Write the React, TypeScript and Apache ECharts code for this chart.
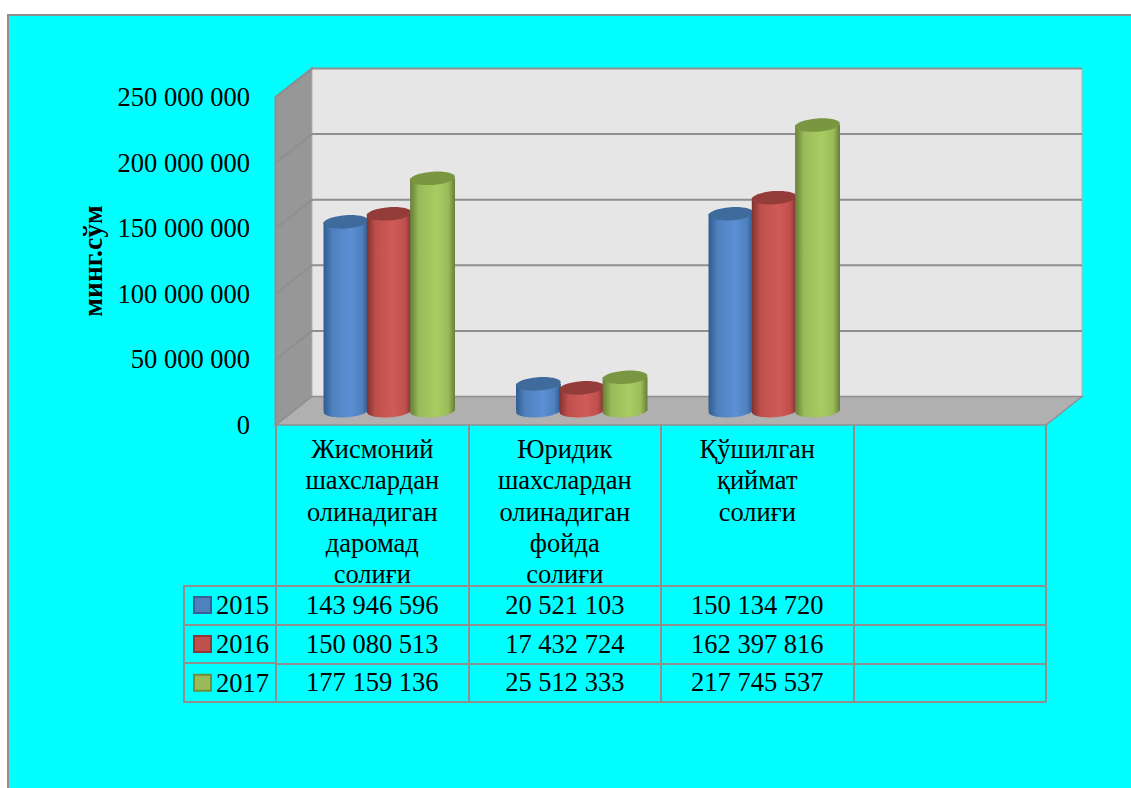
import React, { useEffect, useRef } from "react";
import * as echarts from "echarts";

const categories = [
  "Жисмоний\nшахслардан\nолинадиган\nдаромад\nсолиғи",
  "Юридик\nшахслардан\nолинадиган\nфойда\nсолиғи",
  "Қўшилган\nқиймат\nсолиғи",
  "",
];
const years = ["2015", "2016", "2017"];
const values2015 = [143946596, 20521103, 150134720];
const values2016 = [150080513, 17432724, 162397816];
const values2017 = [177159136, 25512333, 217745537];
const tickValues = [50000000, 100000000, 150000000, 200000000, 250000000];
const axisTitle = "минг.сўм";

const allValues = [values2015, values2016, values2017];
const palette = [
  { edge: "#2f5c90", mid: "#5b90d6", top: "#3f6a9c", swatch: "#4f81bd", line: "#386090" },
  { edge: "#7f3230", mid: "#d05a56", top: "#943c3a", swatch: "#c0504d", line: "#8c3836" },
  { edge: "#667f37", mid: "#a9cc62", top: "#7b9640", swatch: "#9bbb59", line: "#728c3c" },
];
const FONT = "'Liberation Serif', serif";
const FS = 26.5;
const GRAY = "#8f8f8f";
const DX = 36;
const DY = -28.5;
const TILT = 0.07;
const fmt = (v: number) => String(v).replace(/\B(?=(\d{3})+$)/g, " ");

const bodyGradient = (c: any) =>
  new echarts.graphic.LinearGradient(0, 0, 1, 0, [
    { offset: 0, color: c.edge },
    { offset: 0.2, color: c.swatch },
    { offset: 0.6, color: c.mid },
    { offset: 0.85, color: c.swatch },
    { offset: 1, color: c.edge },
  ]);

function cylinderSeries(seriesIndex: number) {
  const c = palette[seriesIndex];
  return {
    type: "custom",
    name: years[seriesIndex],
    xAxisIndex: 0,
    yAxisIndex: 0,
    z: 5 + seriesIndex,
    encode: { x: 0, y: 1 },
    data: allValues[seriesIndex].map((v, i) => [i, v]),
    renderItem: (_p: any, api: any) => {
      const cat = api.value(0);
      const top = api.coord([cat, api.value(1)]);
      const base = api.coord([cat, 0]);
      const band = api.size([1, 0])[0];
      const w = band * 0.233;
      const rx = w / 2;
      const ry = 6.6;
      const cx = top[0] + DX / 2 + (seriesIndex - 1) * band * 0.225 - 1;
      const yt = top[1] + DY / 2;
      const yb = base[1] + DY / 2;
      const fill = bodyGradient(c);
      return {
        type: "group",
        children: [
          { type: "ellipse", x: cx, y: yb, rotation: TILT, shape: { cx: 0, cy: 0, rx, ry }, style: { fill } },
          { type: "rect", shape: { x: cx - rx, y: yt, width: w, height: yb - yt }, style: { fill } },
          { type: "ellipse", x: cx, y: yt, rotation: TILT, shape: { cx: 0, cy: 0, rx, ry }, style: { fill: c.top } },
        ],
      };
    },
  };
}

export default function App() {
  const ref = useRef<HTMLDivElement>(null);
  useEffect(() => {
    document.body.style.margin = "0";
    const chart = echarts.init(ref.current!, null, { renderer: "svg" });
    const commonLine = { lineStyle: { color: GRAY, width: 2 } };
    const option: any = {
      animation: false,
      backgroundColor: "#ffffff",
      textStyle: { fontFamily: FONT, color: "#000" },
      grid: [
        { left: 276, width: 770, top: 97, height: 328 },
        { left: 276, width: 770, top: 425, height: 161 },
        { left: 276, width: 770, top: 586, height: 116 },
      ],
      xAxis: [
        { gridIndex: 0, type: "category", data: categories, axisLine: { show: false }, axisTick: { show: false }, axisLabel: { show: false } },
        {
          gridIndex: 1,
          type: "category",
          position: "top",
          data: categories,
          axisLine: { show: false },
          axisTick: { show: false },
          splitLine: { show: true, interval: 0, ...commonLine },
          axisLabel: {
            show: true,
            interval: 0,
            inside: true,
            margin: 8,
            fontFamily: FONT,
            fontSize: FS,
            lineHeight: 31.4,
            color: "#000",
            align: "center",
            verticalAlign: "top",
          },
        },
        {
          gridIndex: 2,
          type: "category",
          data: categories,
          axisLine: { show: false },
          axisTick: { show: false },
          axisLabel: { show: false },
          splitLine: { show: true, interval: 0, ...commonLine },
        },
      ],
      yAxis: [
        {
          gridIndex: 0,
          type: "value",
          min: 0,
          max: 250000000,
          interval: 50000000,
          axisLine: { show: false },
          axisTick: { show: false },
          splitLine: { show: false },
          axisLabel: { margin: 26, fontFamily: FONT, fontSize: FS, color: "#000", formatter: (v: number) => fmt(v) },
          name: axisTitle,
          nameLocation: "middle",
          nameRotate: 90,
          nameGap: 166,
          nameTextStyle: { fontFamily: FONT, fontSize: 27.5, fontWeight: "bold", color: "#000" },
        },
        { gridIndex: 1, type: "value", min: 0, max: 1, show: false },
        {
          gridIndex: 2,
          type: "category",
          inverse: true,
          data: years,
          axisLine: { show: false },
          axisTick: { show: false },
          axisLabel: { show: false },
          splitLine: { show: true, interval: 0, ...commonLine },
        },
      ],
      legend: {
        orient: "vertical",
        left: 193,
        top: 591.5,
        padding: 0,
        itemWidth: 17,
        itemHeight: 16,
        itemGap: 11.9,
        selectedMode: false,
        textStyle: { fontFamily: FONT, fontSize: FS, color: "#000" },
        data: years.map((y, i) => ({
          name: y,
          icon: "rect",
          itemStyle: { color: palette[i].swatch, borderColor: palette[i].line, borderWidth: 2 },
        })),
      },
      series: [
        {
          type: "custom",
          name: "walls",
          xAxisIndex: 0,
          yAxisIndex: 0,
          z: 1,
          silent: true,
          data: [[0, 0]],
          renderItem: (p: any) => {
            const s = p.coordSys;
            const x0 = s.x;
            const x1 = s.x + s.width;
            const yB = s.y + s.height;
            const yT = s.y;
            return {
              type: "group",
              children: [
                { type: "polygon", shape: { points: [[x0 - 0.5, yT], [x0 + DX, yT + DY], [x0 + DX, yB + DY], [x0 - 0.5, yB]] }, style: { fill: "#979797", stroke: GRAY, lineWidth: 2 } },
                { type: "rect", shape: { x: x0 + DX, y: yT + DY, width: x1 - x0, height: s.height }, style: { fill: "#e6e6e6", stroke: "#b4b4b4", lineWidth: 1 } },
                { type: "polygon", shape: { points: [[x0, yB], [x0 + DX, yB + DY], [x1 + DX, yB + DY], [x1, yB]] }, style: { fill: "#b0b0b0", stroke: GRAY, lineWidth: 1.5 } },
              ],
            };
          },
        },
        {
          type: "custom",
          name: "gridlines",
          xAxisIndex: 0,
          yAxisIndex: 0,
          z: 2,
          silent: true,
          data: tickValues.map((v) => [0, v]),
          renderItem: (p: any, api: any) => {
            const s = p.coordSys;
            const y = api.coord([0, api.value(1)])[1];
            return {
              type: "polyline",
              shape: { points: [[s.x, y], [s.x + DX, y + DY], [s.x + s.width + DX, y + DY]] },
              style: { stroke: GRAY, lineWidth: 2, fill: "none" },
            };
          },
        },
        cylinderSeries(0),
        cylinderSeries(1),
        cylinderSeries(2),
        {
          type: "custom",
          name: "table",
          xAxisIndex: 2,
          yAxisIndex: 2,
          z: 8,
          silent: true,
          data: allValues.flatMap((row, r) => row.map((v, c) => [c, r, v])),
          renderItem: (_p: any, api: any) => {
            const pt = api.coord([api.value(0), api.value(1)]);
            return {
              type: "text",
              x: pt[0],
              y: pt[1] - 0.5,
              style: {
                text: fmt(api.value(2)),
                fontFamily: FONT,
                fontSize: FS,
                fill: "#000",
                align: "center",
                verticalAlign: "middle",
              },
            };
          },
        },
      ],
      graphic: [
        { type: "rect", z: -10, shape: { x: 8, y: 15, width: 1140, height: 800 }, style: { fill: "#00ffff", stroke: GRAY, lineWidth: 2 } },
        { type: "rect", z: 0, shape: { x: 184, y: 586, width: 92, height: 116 }, style: { fill: "none", stroke: GRAY, lineWidth: 2 } },
        { type: "line", z: 0, shape: { x1: 184, y1: 625, x2: 276, y2: 625 }, style: { stroke: GRAY, lineWidth: 2 } },
        { type: "line", z: 0, shape: { x1: 184, y1: 663, x2: 276, y2: 663 }, style: { stroke: GRAY, lineWidth: 2 } },
      ],
    };
    chart.setOption(option);
    return () => chart.dispose();
  }, []);
  return <div ref={ref} style={{ position: "absolute", left: 0, top: 0, width: 1131, height: 788, overflow: "hidden" }} />;
}
